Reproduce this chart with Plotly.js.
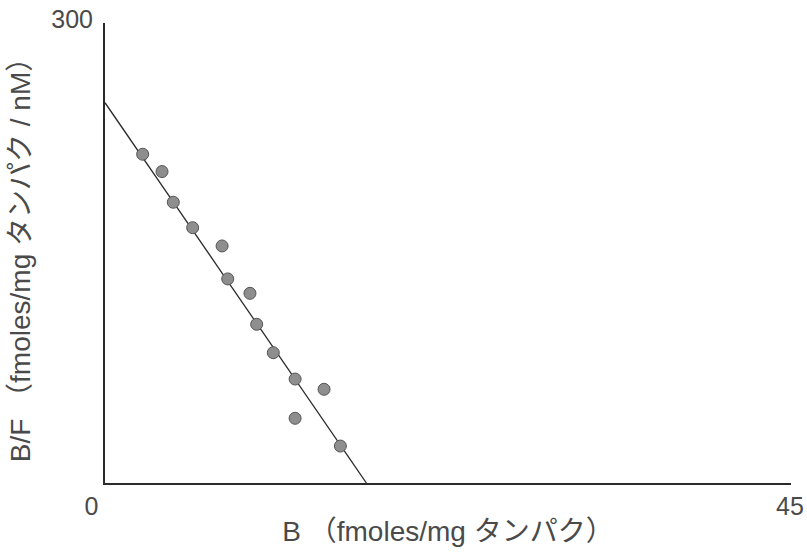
<!DOCTYPE html>
<html>
<head>
<meta charset="utf-8">
<script src="https://cdn.plot.ly/plotly-3.0.1.min.js"></script>
<style>
  html, body { margin: 0; padding: 0; background: #fff; }
  #chart { width: 807px; height: 554px; }
</style>
</head>
<body>
<div id="chart"></div>
<script>
// Scatchard plot: bound ligand (B) versus bound/free ratio (B/F)
const boundB = [2.47, 3.74, 4.48, 5.75, 7.68, 8.05, 9.51, 9.95, 11.04, 12.47, 14.37, 12.47, 15.44];
const ratioBF = [214.4, 203.1, 183.1, 166.5, 154.6, 133.1, 123.7, 103.5, 85.0, 67.8, 61.1, 42.2, 24.1];

// Regression line end points (y-intercept and x-intercept)
const fitB = [0, 17.15];
const fitBF = [248, 0];

const xTickVals = [0, 45];
// the origin label sits a little left of the corner
const xTickText = ['0\u2003', '45'];
const yTickVals = [300];
const yTickText = ['300'];

const xTitle = 'B （fmoles/mg タンパク）';
const yTitle = 'B/F （fmoles/mg タンパク / nM）';

const fontFamily = '"Liberation Sans Narrow", "Liberation Sans", "Noto Sans CJK JP", sans-serif';
const inkColor = '#4a4a4a';

const traces = [
  {
    x: fitB,
    y: fitBF,
    mode: 'lines',
    type: 'scatter',
    line: { color: '#2a2a2a', width: 1.3 },
    hoverinfo: 'skip',
    showlegend: false
  },
  {
    x: boundB,
    y: ratioBF,
    mode: 'markers',
    type: 'scatter',
    marker: {
      size: 12,
      color: '#8e8e8e',
      line: { color: '#555555', width: 1 }
    },
    showlegend: false
  }
];

const layout = {
  width: 807,
  height: 554,
  paper_bgcolor: '#ffffff',
  plot_bgcolor: '#ffffff',
  margin: { l: 105, r: 16, t: 23, b: 71 },
  font: { family: fontFamily, color: inkColor },
  xaxis: {
    range: [0, 45],
    tickvals: xTickVals,
    ticktext: xTickText,
    ticks: 'inside',
    ticklen: 11,
    tickwidth: 2,
    tickcolor: '#2a2a2a',
    showline: true,
    linecolor: '#2a2a2a',
    linewidth: 2,
    showgrid: false,
    zeroline: false,
    tickfont: { size: 25, family: fontFamily, color: inkColor },
    ticklabelstandoff: 0,
    ticklabelshift: -1,
    title: {
      text: xTitle,
      font: { size: 28, family: fontFamily, color: inkColor },
      standoff: 2
    }
  },
  yaxis: {
    range: [0, 300],
    tickvals: yTickVals,
    ticktext: yTickText,
    ticks: 'inside',
    ticklen: 14,
    tickwidth: 2,
    tickcolor: '#2a2a2a',
    showline: true,
    linecolor: '#2a2a2a',
    linewidth: 2,
    showgrid: false,
    zeroline: false,
    tickfont: { size: 25, family: fontFamily, color: inkColor },
    ticklabelstandoff: 5,
    ticklabelshift: -4,
    title: {
      text: yTitle,
      font: { size: 28, family: fontFamily, color: inkColor },
      standoff: 12
    }
  }
};

Plotly.newPlot('chart', traces, layout, { displayModeBar: false, staticPlot: true });
</script>
</body>
</html>
